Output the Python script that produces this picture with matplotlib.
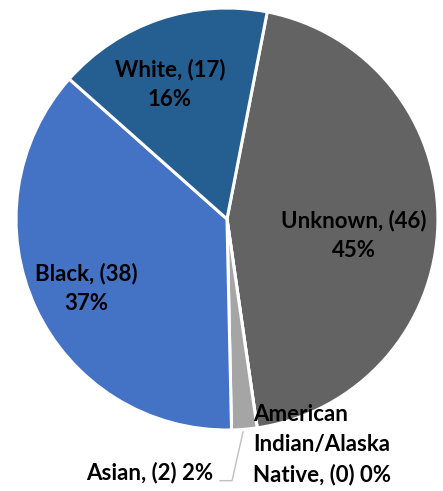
import matplotlib
matplotlib.use("Agg")
import matplotlib.pyplot as plt

categories = ["Unknown", "American Indian/Alaska Native", "Asian", "Black", "White"]
counts = [46, 0, 2, 38, 17]
percent_labels = ["45%", "0%", "2%", "37%", "16%"]
colors = ["#636363", "#ED7D31", "#A5A5A5", "#4472C4", "#255E91"]

plt.rcParams['font.family'] = ['Lato', 'DejaVu Sans']

fig = plt.figure(figsize=(4.43, 4.91), dpi=100)
ax = fig.add_axes([0, 0, 1, 1])
ax.pie(counts, colors=colors, startangle=79, counterclock=False, radius=1.0,
       wedgeprops=dict(edgecolor="white", linewidth=2.2))
ax.set_xlim(-1.076, 1.024)
ax.set_ylim(-1.289, 1.038)
ax.set_aspect('auto')
ax.axis('off')

fs = 16
kw = dict(fontsize=fs, fontweight='bold', color='black', linespacing=1.5)
ax.text(0.60, -0.076, f"{categories[0]}, ({counts[0]})\n{percent_labels[0]}", ha='center', va='center', **kw)
ax.text(-0.668, -0.327, f"{categories[3]}, ({counts[3]})\n{percent_labels[3]}", ha='center', va='center', **kw)
ax.text(-0.27, 0.64, f"{categories[4]}, ({counts[4]})\n{percent_labels[4]}", ha='center', va='center', **kw)
ax.text(-0.066, -1.2, f"{categories[2]}, ({counts[2]}) {percent_labels[2]}", ha='right', va='center', **kw)
ax.text(0.123, -1.07, f"American\nIndian/Alaska\nNative, ({counts[1]}) {percent_labels[1]}", ha='left', va='center', **kw)
ax.plot([0.076, 0.024, -0.033], [-1.009, -1.24, -1.24], color="#BFBFBF", lw=1)

fig.savefig("out.png", dpi=100)
